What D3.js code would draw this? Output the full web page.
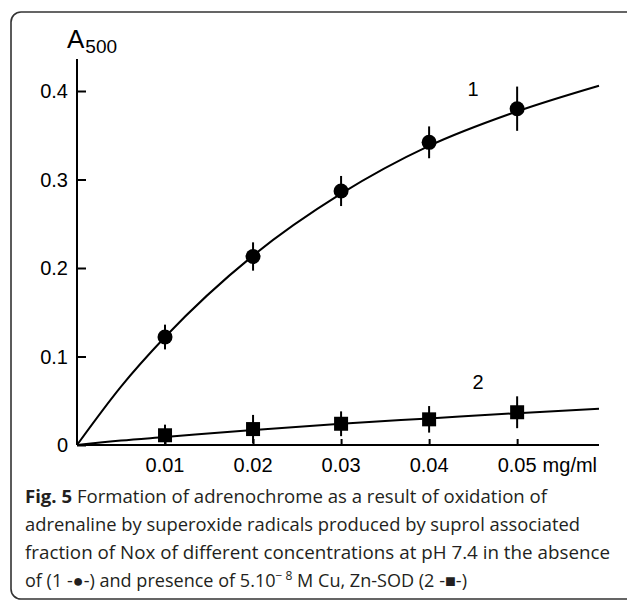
<!DOCTYPE html>
<html><head><meta charset="utf-8">
<script src="https://cdn.jsdelivr.net/npm/d3@7"></script>
<style>
html,body{margin:0;padding:0;background:#fff;}
svg{display:block;}
</style></head>
<body>
<script>
// ---- data ----
const concentrations = [0.01, 0.02, 0.03, 0.04, 0.05];
const series1 = [0.122, 0.213, 0.287, 0.342, 0.380];   // absence of SOD (circles)
const err1    = [0.014, 0.016, 0.017, 0.018, 0.025];
const series2 = [0.011, 0.018, 0.024, 0.029, 0.037];   // presence of SOD (squares)
const err2    = [0.012, 0.016, 0.014, 0.015, 0.018];
const fitX  = [0, 0.005, 0.01, 0.02, 0.03, 0.04, 0.05, 0.0593];
const fit1Y = [0, 0.066, 0.122, 0.214, 0.284, 0.338, 0.377, 0.406];
const fit2Y = [0, 0.005, 0.009, 0.017, 0.024, 0.030, 0.036, 0.041];
const yTicks = [0, 0.1, 0.2, 0.3, 0.4];
const yTickLabels = ["0", "0.1", "0.2", "0.3", "0.4"];
const xTicks = [0.01, 0.02, 0.03, 0.04, 0.05];
const xTickLabels = ["0.01", "0.02", "0.03", "0.04", "0.05"];
const xUnit = "mg/ml";
const captionLines = [
  [{t:"Fig. 5", b:true}, {t:" Formation of adrenochrome as a result of oxidation of"}],
  [{t:"adrenaline by superoxide radicals produced by suprol associated"}],
  [{t:"fraction of Nox of different concentrations at pH 7.4 in the absence"}],
  [{t:"of (1 -\u25CF-) and presence of 5.10"}, {t:"\u2212 8", sup:true}, {t:" M Cu, Zn-SOD (2 -\u25A0-)"}]
];
const captionWidths = [522, 555, 585, 442];

const W = 627, H = 601;
const svg = d3.select("body").append("svg").attr("width", W).attr("height", H);

// frame
svg.append("rect").attr("x", 11).attr("y", 12).attr("width", 640).attr("height", 587)
  .attr("rx", 10).attr("fill", "none").attr("stroke", "#333").attr("stroke-width", 1.6);

const x = d3.scaleLinear().domain([0, 0.0593]).range([77, 599]);
const y = d3.scaleLinear().domain([0, 0.4]).range([445, 91]);
const font = "'Liberation Sans', Arial, sans-serif";

// y axis
const yAxis = d3.axisRight(y).tickValues(yTicks).tickSize(9).tickFormat("");
const gy = svg.append("g").attr("transform", `translate(${x(0)},0)`).call(yAxis);
gy.select(".domain").remove();
gy.selectAll("line").attr("stroke", "#000").attr("stroke-width", 2);
svg.append("line").attr("x1", x(0)).attr("x2", x(0)).attr("y1", y(0)).attr("y2", 59)
  .attr("stroke", "#000").attr("stroke-width", 2);
svg.selectAll(".ylab").data(yTicks).join("text").attr("class", "ylab")
  .attr("x", x(0) - 9).attr("y", d => y(d)).attr("dy", "0.36em")
  .attr("text-anchor", "end").attr("font-family", font).attr("font-size", 20)
  .text((d, i) => yTickLabels[i]);

// x axis
const xAxis = d3.axisTop(x).tickValues(xTicks).tickSize(6).tickFormat("");
const gx = svg.append("g").attr("transform", `translate(0,${y(0)})`).call(xAxis);
gx.select(".domain").remove();
gx.selectAll("line").attr("stroke", "#000").attr("stroke-width", 2);
svg.append("line").attr("x1", x(0)).attr("x2", x.range()[1]).attr("y1", y(0)).attr("y2", y(0))
  .attr("stroke", "#000").attr("stroke-width", 2);
svg.selectAll(".xlab").data(xTicks).join("text").attr("class", "xlab")
  .attr("x", d => x(d)).attr("y", 472)
  .attr("text-anchor", "middle").attr("font-family", font).attr("font-size", 20)
  .text((d, i) => xTickLabels[i]);
const lastLab = svg.selectAll(".xlab").filter((d, i) => i === xTicks.length - 1);
const lw = lastLab.node().getComputedTextLength();
svg.append("text").attr("x", x(0.05) + lw / 2 + 6).attr("y", 472)
  .attr("font-family", font).attr("font-size", 20).text(xUnit);

// axis title A500
const at = svg.append("text").attr("x", 67).attr("y", 48).attr("font-family", font);
at.append("tspan").attr("font-size", 26).text("A");
at.append("tspan").attr("font-size", 19).attr("dx", 1).attr("dy", 5).text("500");

// fitted curves
const line = d3.line().x(d => x(d[0])).y(d => y(d[1])).curve(d3.curveMonotoneX);
svg.append("path").attr("d", line(fitX.map((v, i) => [v, fit1Y[i]])))
  .attr("fill", "none").attr("stroke", "#000").attr("stroke-width", 2);
svg.append("path").attr("d", line(fitX.map((v, i) => [v, fit2Y[i]])))
  .attr("fill", "none").attr("stroke", "#000").attr("stroke-width", 2);

// error bars
function errBars(vals, errs) {
  svg.append("g").selectAll("line").data(concentrations).join("line")
    .attr("x1", d => x(d)).attr("x2", d => x(d))
    .attr("y1", (d, i) => y(Math.max(0, vals[i] - errs[i])))
    .attr("y2", (d, i) => y(vals[i] + errs[i]))
    .attr("stroke", "#000").attr("stroke-width", 2);
}
errBars(series1, err1);
errBars(series2, err2);

// markers
svg.append("g").selectAll("circle").data(concentrations).join("circle")
  .attr("cx", d => x(d)).attr("cy", (d, i) => y(series1[i])).attr("r", 7.5).attr("fill", "#000");
svg.append("g").selectAll("rect").data(concentrations).join("rect")
  .attr("x", d => x(d) - 7).attr("y", (d, i) => y(series2[i]) - 7)
  .attr("width", 14).attr("height", 14).attr("fill", "#000");

// curve labels
svg.append("text").attr("x", 473).attr("y", 96).attr("text-anchor", "middle")
  .attr("font-family", font).attr("font-size", 20).text("1");
svg.append("text").attr("x", 478).attr("y", 389).attr("text-anchor", "middle")
  .attr("font-family", font).attr("font-size", 20).text("2");

// caption
const capFont = "'Open Sans', 'Noto Sans', sans-serif";
captionLines.forEach((ln, li) => {
  const t = svg.append("text").attr("x", 25).attr("y", 503 + li * 28)
    .attr("font-family", capFont).attr("font-size", 18).attr("fill", "#231f20");
  ln.forEach(s => {
    const ts = t.append("tspan").text(s.t);
    if (s.b) ts.attr("font-weight", "bold");
    if (s.sup) ts.attr("font-size", 12).attr("baseline-shift", "7");
  });
  t.attr("textLength", captionWidths[li]).attr("lengthAdjust", "spacingAndGlyphs");
});
</script>
</body></html>
